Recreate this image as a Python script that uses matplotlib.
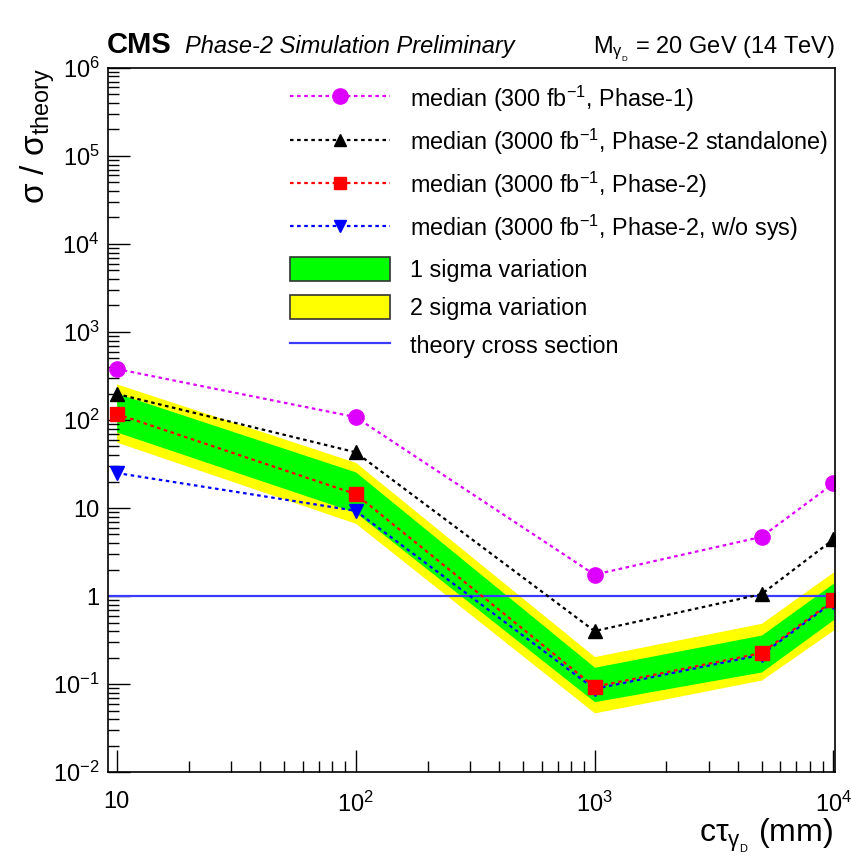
import numpy as np
import matplotlib
matplotlib.use('Agg')
import matplotlib.pyplot as plt
from matplotlib.patches import Patch
from matplotlib.lines import Line2D
from matplotlib.ticker import LogLocator, NullFormatter, FixedLocator

plt.rcParams['font.family'] = ['Liberation Sans', 'DejaVu Sans']
plt.rcParams['mathtext.fontset'] = 'custom'
plt.rcParams['mathtext.rm'] = 'Liberation Sans'
plt.rcParams['mathtext.it'] = 'Liberation Sans:italic'
plt.rcParams['mathtext.bf'] = 'Liberation Sans:bold'

# data (ctau in mm, sigma/sigma_theory)
ctau = [10, 100, 1000, 5000, 10000]
phase1 = [380, 108, 1.75, 4.7, 19]
phase2_standalone = [198, 43, 0.40, 1.05, 4.4]
phase2 = [117, 14.4, 0.093, 0.225, 0.89]
phase2_nosys = [25, 9.3, 0.088, 0.215, 0.86]
sig1_lo = [73, 8.9, 0.063, 0.137, 0.54]
sig1_hi = [202, 25.7, 0.155, 0.36, 1.40]
sig2_lo = [56, 6.7, 0.047, 0.111, 0.41]
sig2_hi = [257, 33, 0.205, 0.49, 1.88]
theory = 1.0

fig = plt.figure(figsize=(8.53, 8.56), dpi=100)
ax = fig.add_axes([0.1266, 0.0981, 0.8523, 0.8225])

ax.fill_between(ctau, sig2_lo, sig2_hi, color='#ffff00', lw=0)
ax.fill_between(ctau, sig1_lo, sig1_hi, color='#00ff00', lw=0)
ax.axhline(theory, color='#3b3bff', lw=1.6)

dot = (0, (1.6, 1.6))
ax.plot(ctau, phase1, color='#dd00ff', ls=dot, lw=1.6, marker='o', ms=11)
ax.plot(ctau, phase2_standalone, color='black', ls=dot, lw=1.6, marker='^', ms=10)
ax.plot(ctau, phase2_nosys, color='#0000ff', ls=dot, lw=1.6, marker='v', ms=10)
ax.plot(ctau, phase2, color='#ff0000', ls=dot, lw=1.6, marker='s', ms=10)

ax.set_xscale('log')
ax.set_yscale('log')
ax.set_xlim(9.2, 10150)
ax.set_ylim(1e-2, 1e6)

ax.xaxis.set_major_locator(FixedLocator([10, 100, 1000, 10000]))
ax.set_xticklabels(['10', r'$10^{2}$', r'$10^{3}$', r'$10^{4}$'])
ax.xaxis.set_minor_locator(LogLocator(base=10, subs=np.arange(2, 10)))
ax.xaxis.set_minor_formatter(NullFormatter())
yt = [1e-2, 1e-1, 1, 10, 1e2, 1e3, 1e4, 1e5, 1e6]
ax.yaxis.set_major_locator(FixedLocator(yt))
ax.set_yticklabels([r'$10^{-2}$', r'$10^{-1}$', '1', '10', r'$10^{2}$',
                    r'$10^{3}$', r'$10^{4}$', r'$10^{5}$', r'$10^{6}$'])
ax.yaxis.set_minor_locator(LogLocator(base=10, subs=np.arange(2, 10), numticks=20))
ax.yaxis.set_minor_formatter(NullFormatter())
ax.tick_params(which='major', direction='in', length=16, width=1, labelsize=17)
ax.tick_params(which='minor', direction='in', length=8, width=1)
ax.tick_params(axis='x', which='both', pad=14)
ax.tick_params(axis='y', which='both', pad=6)
for s in ax.spines.values():
    s.set_linewidth(1.2)

handles = [
    Line2D([], [], color='#dd00ff', ls=dot, lw=1.6, marker='o', ms=11),
    Line2D([], [], color='black', ls=dot, lw=1.6, marker='^', ms=9),
    Line2D([], [], color='#ff0000', ls=dot, lw=1.6, marker='s', ms=9),
    Line2D([], [], color='#0000ff', ls=dot, lw=1.6, marker='v', ms=9),
    Patch(facecolor='#00ff00', edgecolor='#333333', lw=1.2),
    Patch(facecolor='#ffff00', edgecolor='#333333', lw=1.2),
    Line2D([], [], color='#3b3bff', lw=1.6),
]
labels = [
    r'median (300 fb$^{-1}$, Phase-1)',
    r'median (3000 fb$^{-1}$, Phase-2 standalone)',
    r'median (3000 fb$^{-1}$, Phase-2)',
    r'median (3000 fb$^{-1}$, Phase-2, w/o sys)',
    '1 sigma variation',
    '2 sigma variation',
    'theory cross section',
]
ax.legend(handles, labels, loc='upper left', bbox_to_anchor=(0.2503, 0.978),
          frameon=False, fontsize=16.8, handlelength=4.3, handleheight=1.25,
          labelspacing=0.56, handletextpad=0.86, borderaxespad=0, borderpad=0)

fig.text(107 / 853, 1 - 53 / 856, 'CMS', fontsize=21, fontweight='bold', va='baseline')
fig.text(185 / 853, 1 - 53 / 856, 'Phase-2 Simulation Preliminary', fontsize=17,
         style='italic', va='baseline')
fig.text(835 / 853, 1 - 53 / 856, r'M$_{\rm γ_{_{D}}}$ = 20 GeV (14 TeV)', fontsize=17,
         ha='right', va='baseline')
fig.text(38 / 853, 1 - 68 / 856, r'σ / σ$_{\rm theory}$', fontsize=24,
         rotation=90, ha='center', va='top')
fig.text(833 / 853, 1 - 842 / 856, r'cτ$_{\rm γ_{_{D}}}$ (mm)', fontsize=23,
         ha='right', va='baseline')

fig.savefig('out.png', dpi=100)
